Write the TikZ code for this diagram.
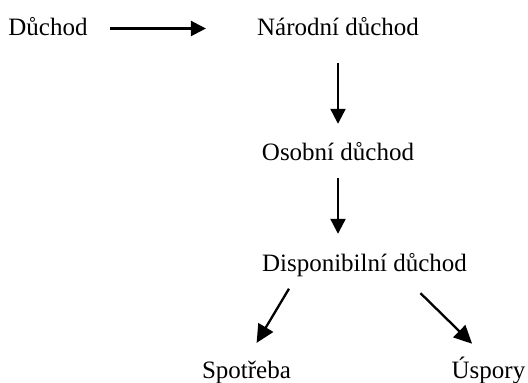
\documentclass[tikz,border=0pt]{standalone}
\usepackage{fontspec}
\setmainfont{Liberation Serif}
\usepackage{tikz}
\usetikzlibrary{arrows.meta,positioning}

\begin{document}
\begin{tikzpicture}[
    word/.style={inner sep=0pt, text height=18pt, text depth=5pt,
                 font=\fontsize{25pt}{30pt}\selectfont},
    arrow/.style={-{Triangle[length=15pt,width=15pt]}, line width=2.3pt},
    bigarrow/.style={arrow, -{Triangle[length=18pt,width=17pt]}}]
    \useasboundingbox (0,0) rectangle (528pt,-383pt);
    \node[word] (duchod) at (48pt,-28.5pt) {Důchod};
    \node[word, right of=duchod, node distance=290pt] (narodni) {Národní důchod};
    \node[word, below of=narodni, node distance=125pt] (osobni) {Osobní důchod};
    \node[word, below of=osobni, node distance=111pt, xshift=26.5pt] (disp) {Disponibilní důchod};
    \node[word, below of=disp, node distance=107pt, xshift=-118pt] (spotreba) {Spotřeba};
    \node[word, below of=disp, node distance=107pt, xshift=124pt] (uspory) {Úspory};
    \draw[arrow, shorten <=22pt, shorten >=51pt] (duchod) -- (narodni);
    \draw[arrow, shorten <=23pt, shorten >=18pt] (narodni.south) -- (osobni.north);
    \draw[arrow, shorten <=13pt, shorten >=19pt] (osobni.south) -- (osobni.south |- disp.north);
    \draw[bigarrow, shorten <=14.6pt, shorten >=19.7pt] ([xshift=34.6pt]disp.south west) -- (spotreba.north);
    \draw[bigarrow, shorten <=24.2pt, shorten >=23pt] ([xshift=-64pt]disp.south east) -- (uspory.north);
\end{tikzpicture}
\end{document}
